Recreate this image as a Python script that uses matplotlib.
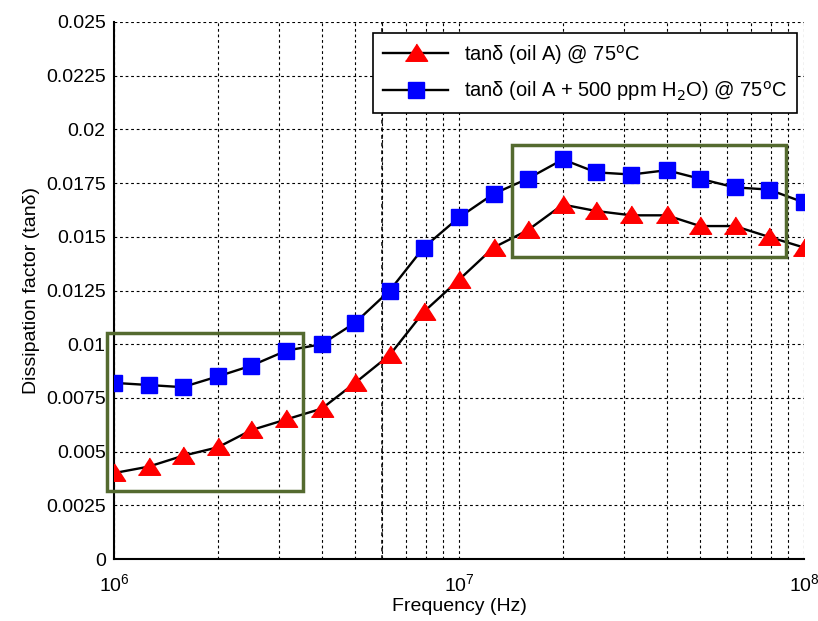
import matplotlib.pyplot as plt
from matplotlib.patches import Rectangle
from matplotlib.ticker import FixedLocator, FixedFormatter, LogLocator, NullFormatter

plt.rcParams['font.family'] = ['Liberation Sans', 'DejaVu Sans']

freq = [1e6, 1.26e6, 1.58e6, 2e6, 2.5e6, 3.16e6, 4e6, 5e6, 6.3e6, 7.9e6,
        1e7, 1.26e7, 1.58e7, 2e7, 2.5e7, 3.16e7, 4e7, 5e7, 6.3e7, 7.9e7, 1e8]
tan_oil = [0.0040, 0.0043, 0.0048, 0.0052, 0.0060, 0.0065, 0.0070, 0.0082, 0.0095, 0.0115,
           0.0130, 0.0145, 0.0153, 0.0165, 0.0162, 0.0160, 0.0160, 0.0155, 0.0155, 0.0150, 0.0145]
tan_wet = [0.0082, 0.0081, 0.0080, 0.0085, 0.0090, 0.0097, 0.0100, 0.0110, 0.0125, 0.0145,
           0.0159, 0.0170, 0.0177, 0.0186, 0.0180, 0.0179, 0.0181, 0.0177, 0.0173, 0.0172, 0.0166]
y_ticks = [0, 0.0025, 0.005, 0.0075, 0.01, 0.0125, 0.015, 0.0175, 0.02, 0.0225, 0.025]
y_labels = ['0', '0.0025', '0.005', '0.0075', '0.01', '0.0125', '0.015', '0.0175', '0.02', '0.0225', '0.025']

# highlighted regions: (x0, x1, y0, y1)
box_low = (9.54e5, 3.53e6, 0.00316, 0.01052)
box_high = (1.424e7, 8.87e7, 0.01405, 0.01926)

fig = plt.figure(figsize=(8.18, 6.21), dpi=100)
ax = fig.add_axes([114 / 818, 1 - 559 / 621, 690 / 818, 537 / 621])

tri = [(-1, -0.7), (1, -0.7), (0, 0.85)]
ax.plot(freq, tan_oil, color='black', lw=1.7, marker=tri, ms=16, mfc='red', mec='red',
        label='tanδ (oil A) @ 75$^{\\rm o}$C', zorder=4)
ax.plot(freq, tan_wet, color='black', lw=1.7, marker='s', ms=12, mfc='blue', mec='blue',
        label='tanδ (oil A + 500 ppm H$_2$O) @ 75$^{\\rm o}$C', zorder=4)

for x0, x1, y0, y1 in (box_low, box_high):
    ax.add_patch(Rectangle((x0, y0), x1 - x0, y1 - y0, fill=False, ec='#546a2f',
                           lw=2.5, clip_on=False, zorder=5))

ax.set_xscale('log')
ax.set_xlim(1e6, 1e8)
ax.set_ylim(0, 0.025)
ax.yaxis.set_major_locator(FixedLocator(y_ticks))
ax.yaxis.set_major_formatter(FixedFormatter(y_labels))
ax.xaxis.set_minor_locator(LogLocator(base=10, subs=range(2, 10)))
ax.xaxis.set_minor_formatter(NullFormatter())

grid_style = dict(color='black', lw=0.8, dashes=(2.5, 2.5))
ax.grid(True, which='major', axis='both', **grid_style)
ax.grid(True, which='minor', axis='x', **grid_style)
ax.axvline(6e6, color='black', lw=1.1, dashes=(2.5, 2.5), zorder=1)

for side in ('top', 'right'):
    ax.spines[side].set_visible(False)
ax.spines['left'].set_linewidth(1.5)
ax.spines['bottom'].set_linewidth(1.5)
ax.tick_params(which='both', direction='in', length=0, labelsize=14, pad=6)
ax.tick_params(axis='x', pad=10)

ax.set_xlabel('Frequency (Hz)', fontsize=14, labelpad=2)
ax.set_ylabel('Dissipation factor (tanδ)', fontsize=14, labelpad=4)

leg = ax.legend(loc='upper right', bbox_to_anchor=(0.99, 0.98), fontsize=14.5, frameon=True,
                fancybox=False, edgecolor='black', framealpha=1, handlelength=3.2,
                borderpad=0.5, labelspacing=0.6, borderaxespad=0)
leg.get_frame().set_linewidth(1.2)

fig.savefig('out.png', dpi=100)
